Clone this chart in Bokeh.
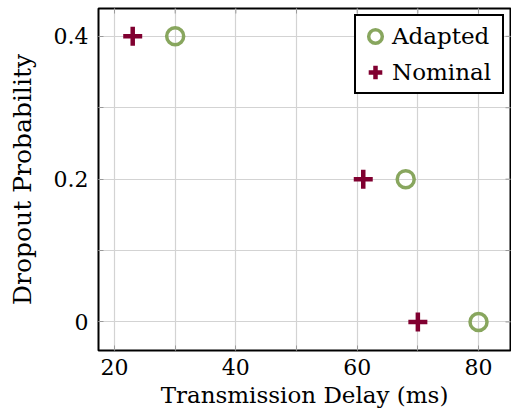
import math
from bokeh.plotting import figure
from bokeh.models import Range1d, FixedTicker, Legend, LegendItem
from bokeh.embed import file_html
from bokeh.resources import INLINE

adapted_delay = [30, 68, 80]
adapted_prob = [0.4, 0.2, 0.0]
nominal_delay = [23, 61, 70]
nominal_prob = [0.4, 0.2, 0.0]

x_ticks = [20, 40, 60, 80]
x_minor = [30, 50, 70]
y_ticks = [0, 0.2, 0.4]
y_minor = [0.1, 0.3]
y_labels = {0: "0", 0.2: "0.2", 0.4: "0.4"}

FONT = "DejaVu Serif"
GREEN = "#88A65E"
RED = "#800030"
TICK = "#9a9a9a"

x_range = Range1d(17.36, 85.27)
y_range = Range1d(-0.04, 0.439)

p = figure(width=511, height=419, output_backend="svg", toolbar_location=None,
           x_range=x_range, y_range=y_range,
           min_border_left=98, min_border_right=1, min_border_top=8, min_border_bottom=69)

p.outline_line_color = "black"
p.outline_line_width = 2
p.outline_line_alpha = 1

for ax in (p.xaxis[0], p.yaxis[0]):
    ax.axis_line_color = None
    ax.major_tick_in = 5
    ax.major_tick_out = 0
    ax.minor_tick_in = 5
    ax.minor_tick_out = 0
    ax.major_tick_line_color = TICK
    ax.minor_tick_line_color = TICK
    ax.major_label_text_font = FONT
    ax.major_label_text_font_size = "22px"
    ax.major_label_text_color = "black"
    ax.axis_label_text_font = FONT
    ax.axis_label_text_font_style = "normal"
    ax.axis_label_text_color = "black"

p.xaxis.ticker = FixedTicker(ticks=x_ticks, minor_ticks=x_minor)
p.yaxis.ticker = FixedTicker(ticks=y_ticks, minor_ticks=y_minor)
p.yaxis.major_label_overrides = y_labels
p.xaxis.major_label_standoff = 8
p.yaxis.major_label_standoff = 10
p.xaxis.axis_label = "Transmission Delay (ms)"
p.yaxis.axis_label = "Dropout Probability"
p.xaxis.axis_label_text_font_size = "23px"
p.yaxis.axis_label_text_font_size = "25px"
p.xaxis.axis_label_standoff = 4
p.yaxis.axis_label_standoff = 14

for g in (p.xgrid[0], p.ygrid[0]):
    g.grid_line_color = "#d3d3d3"
    g.grid_line_width = 1.2
    g.minor_grid_line_color = "#d3d3d3"
    g.minor_grid_line_width = 1.2

# tick marks on top and right edges (pgfplots draws ticks on all sides);
# dash markers centred on the frame edge, half clipped by the frame
xt_all = x_ticks + x_minor
yt_all = y_ticks + y_minor
p.scatter(xt_all, [y_range.end] * len(xt_all), marker="dash", angle=math.pi / 2,
          size=10, line_color=TICK, line_width=1)
p.scatter([x_range.end] * len(yt_all), yt_all, marker="dash",
          size=10, line_color=TICK, line_width=1)

r_ad = p.scatter(adapted_delay, adapted_prob, marker="circle", size=17,
                 fill_color=None, line_color=GREEN, line_width=3.5)
r_no = p.scatter(nominal_delay, nominal_prob, marker="cross", size=19,
                 line_color=RED, line_width=4.5)

legend = Legend(items=[LegendItem(label="Adapted", renderers=[r_ad]),
                       LegendItem(label="Nominal", renderers=[r_no])],
                location="top_right")
legend.label_text_font = FONT
legend.label_text_font_size = "23px"
legend.label_text_color = "black"
legend.border_line_color = "black"
legend.border_line_width = 2
legend.border_line_alpha = 1
legend.background_fill_alpha = 1
legend.margin = 6
legend.padding = 2
legend.spacing = 0
legend.glyph_width = 34
legend.glyph_height = 36
legend.label_standoff = 0
legend.label_height = 36
legend.label_width = 108
p.add_layout(legend)

open("out.html", "w").write(file_html(p, INLINE))
